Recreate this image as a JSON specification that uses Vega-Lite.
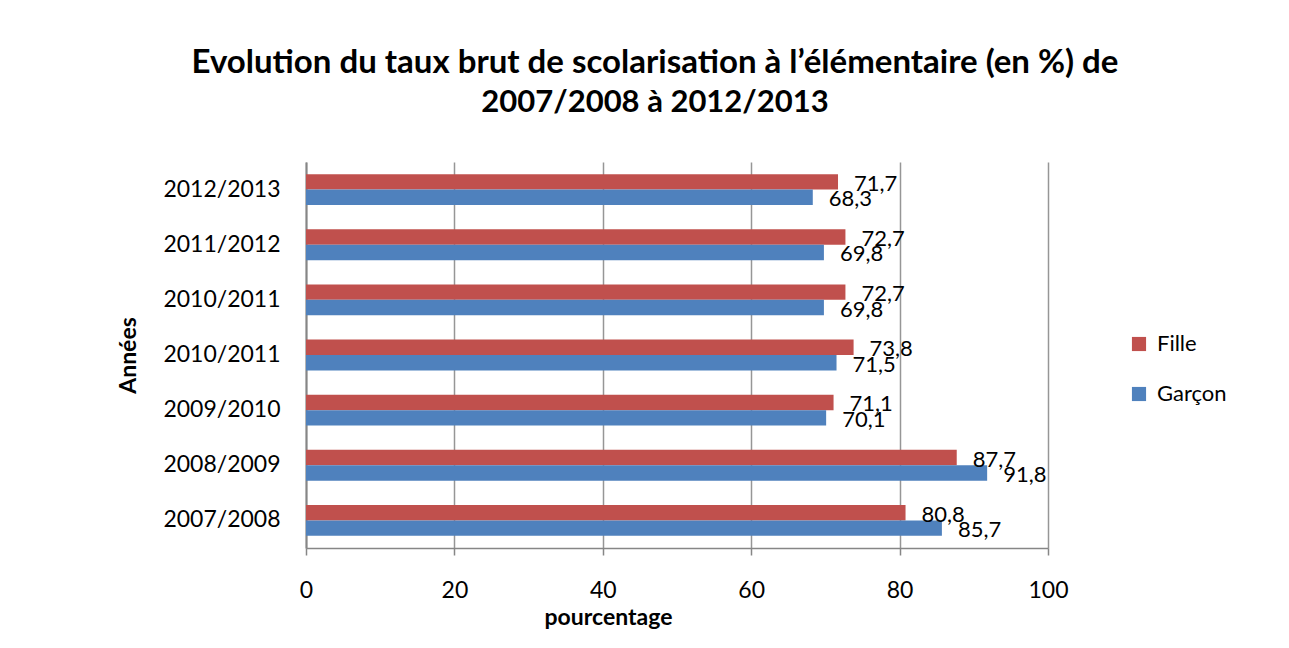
{
  "$schema": "https://vega.github.io/schema/vega-lite/v6.json",
  "autosize": "none",
  "padding": {"left": 306, "top": 162, "right": 241, "bottom": 100},
  "width": 742,
  "height": 386,
  "background": "white",
  "config": {
    "font": "Lato",
    "view": {"stroke": null},
    "locale": {"number": {"decimal": ",", "thousands": " ", "grouping": [3], "currency": ["", " €"]}}
  },
  "title": {
    "text": "Evolution du taux brut de scolarisation à l’élémentaire (en %) de",
    "subtitle": "2007/2008 à  2012/2013",
    "font": "Lato",
    "fontSize": 33,
    "fontWeight": "bold",
    "color": "black",
    "subtitleFont": "Lato",
    "subtitleFontSize": 31,
    "subtitleFontWeight": "bold",
    "subtitleColor": "black",
    "subtitlePadding": 8,
    "anchor": "middle",
    "dx": -22,
    "offset": 44
  },
  "data": {
    "values": [
      {"annee": "2012/2013", "sexe": "Fille", "valeur": 71.7},
      {"annee": "2012/2013", "sexe": "Garçon", "valeur": 68.3},
      {"annee": "2011/2012", "sexe": "Fille", "valeur": 72.7},
      {"annee": "2011/2012", "sexe": "Garçon", "valeur": 69.8},
      {"annee": "2010/2011", "sexe": "Fille", "valeur": 72.7},
      {"annee": "2010/2011", "sexe": "Garçon", "valeur": 69.8},
      {"annee": " 2010/2011", "sexe": "Fille", "valeur": 73.8},
      {"annee": " 2010/2011", "sexe": "Garçon", "valeur": 71.5},
      {"annee": "2009/2010", "sexe": "Fille", "valeur": 71.1},
      {"annee": "2009/2010", "sexe": "Garçon", "valeur": 70.1},
      {"annee": "2008/2009", "sexe": "Fille", "valeur": 87.7},
      {"annee": "2008/2009", "sexe": "Garçon", "valeur": 91.8},
      {"annee": "2007/2008", "sexe": "Fille", "valeur": 80.8},
      {"annee": "2007/2008", "sexe": "Garçon", "valeur": 85.7}
    ]
  },
  "encoding": {
    "y": {
      "field": "annee",
      "type": "nominal",
      "sort": ["2012/2013", "2011/2012", "2010/2011", " 2010/2011", "2009/2010", "2008/2009", "2007/2008"],
      "scale": {"paddingInner": 0.44, "paddingOuter": 0.22},
      "axis": {
        "title": "Années",
        "titleFontSize": 23,
        "titleFontWeight": "bold",
        "titleColor": "black",
        "titlePadding": 22,
        "labelFontSize": 23,
        "labelColor": "black",
        "labelPadding": 26,
        "ticks": false,
        "domainColor": "#868686",
        "domainWidth": 2
      }
    },
    "yOffset": {"field": "sexe", "type": "nominal", "sort": ["Fille", "Garçon"], "scale": {"paddingInner": 0}},
    "x": {
      "field": "valeur",
      "type": "quantitative",
      "scale": {"domain": [0, 100]},
      "axis": {
        "title": "pourcentage",
        "titleFontSize": 23,
        "titleFontWeight": "bold",
        "titleColor": "black",
        "titlePadding": 4,
        "titleX": 302,
        "titleAlign": "center",
        "values": [0, 20, 40, 60, 80, 100],
        "labelFontSize": 23,
        "labelColor": "black",
        "labelPadding": 24,
        "labelFlush": false,
        "tickSize": 7,
        "tickColor": "#868686",
        "tickWidth": 1.5,
        "domainColor": "#868686",
        "domainWidth": 1.5,
        "grid": true,
        "gridColor": "#969696",
        "gridWidth": 1.5
      }
    }
  },
  "layer": [
    {
      "mark": {"type": "bar"},
      "encoding": {
        "color": {
          "field": "sexe",
          "type": "nominal",
          "scale": {"domain": ["Fille", "Garçon"], "range": ["#C0504D", "#4F81BD"]},
          "legend": {
            "title": null,
            "orient": "none",
            "legendX": 822,
            "legendY": 171,
            "symbolType": "square",
            "symbolSize": 200,
            "symbolStrokeWidth": 0,
            "labelFontSize": 22,
            "labelColor": "black",
            "labelOffset": 7,
            "rowPadding": 28
          }
        }
      }
    },
    {
      "mark": {"type": "text", "align": "left", "baseline": "middle", "dx": 16, "dy": 2, "fontSize": 22, "color": "black"},
      "encoding": {
        "text": {"field": "valeur", "type": "quantitative", "format": ".1f"}
      }
    }
  ]
}
